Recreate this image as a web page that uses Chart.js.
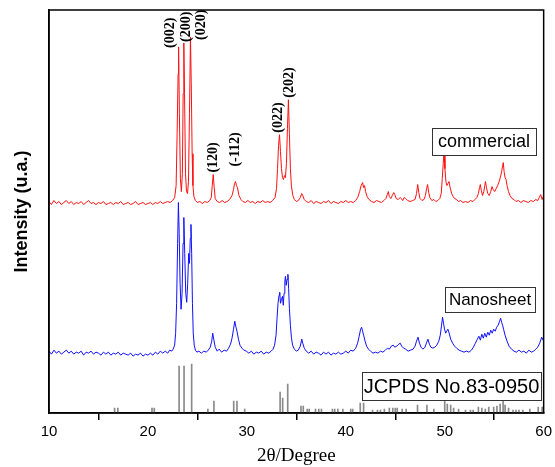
<!DOCTYPE html>
<html>
<head>
<meta charset="utf-8">
<script src="https://cdn.jsdelivr.net/npm/chart.js@4.4.1/dist/chart.umd.min.js"></script>
<style>
html,body{margin:0;padding:0;background:#fff;}
#wrap{width:555px;height:467px;}
</style>
</head>
<body>
<div id="wrap"><canvas id="c" width="555" height="467"></canvas></div>
<script>
// ---- data ----
const xTicks = [10, 20, 30, 40, 50, 60];
const seriesNames = ['commercial', 'Nanosheet', 'JCPDS No.83-0950'];

const commercial = [
[10.0,212],[10.25,209],[10.5,213],[10.75,210],[11.0,212],[11.25,209],[11.5,211],[11.75,213],[12.0,210],[12.25,212],
[12.5,209],[12.75,211],[13.0,210],[13.25,212],[13.5,209],[13.75,211],[14.0,213],[14.25,210],[14.5,211],[14.75,209],
[15.0,211],[15.25,210],[15.5,212],[15.75,209],[16.0,210],[16.25,211],[16.5,209],[16.75,211],[17.0,210],[17.25,212],
[17.5,209],[17.75,210],[18.0,211],[18.25,209],[18.5,210],[18.75,212],[19.0,209],[19.25,210],[19.5,211],[19.75,209],
[20.0,210],[20.25,211],[20.5,209],[20.75,211],[21.0,210],[21.25,212],[21.5,210],[21.75,211],[22.0,212],[22.25,211],
[22.5,213],[22.7,216],[22.85,228],[22.95,280],[23.05,340],[23.1,367],[23.18,300],[23.28,235],[23.38,222],[23.48,240],
[23.56,320],[23.63,371],[23.7,320],[23.8,240],[23.9,222],[24.0,220],[24.1,232],[24.2,300],[24.3,377],[24.38,330],
[24.47,260],[24.55,228],[24.65,217],[24.8,213],[25.0,211],[25.25,212],[25.5,210],[25.75,212],[26.0,211],[26.25,213],
[26.4,216],[26.5,228],[26.6,239],[26.7,226],[26.8,215],[27.0,212],[27.25,211],[27.5,213],[27.75,211],[28.0,212],
[28.25,214],[28.5,218],[28.65,224],[28.75,230],[28.85,232],[28.95,228],[29.05,226],[29.2,218],[29.4,214],[29.6,212],
[29.85,211],[30.1,213],[30.35,211],[30.6,212],[30.85,210],[31.1,212],[31.35,211],[31.6,213],[31.85,211],[32.1,212],
[32.35,211],[32.6,213],[32.85,216],[33.0,225],[33.1,245],[33.2,268],[33.3,279],[33.4,262],[33.5,245],[33.6,236],
[33.7,234],[33.8,238],[33.9,236],[34.0,250],[34.1,285],[34.2,314],[34.3,280],[34.4,245],[34.5,228],[34.65,218],
[34.8,214],[35.0,212],[35.2,213],[35.4,216],[35.55,220],[35.65,218],[35.8,214],[36.0,212],[36.25,211],[36.5,213],
[36.75,210],[37.0,212],[37.25,211],[37.5,210],[37.75,212],[38.0,211],[38.25,213],[38.5,210],[38.75,212],[39.0,211],
[39.25,210],[39.5,212],[39.75,211],[40.0,213],[40.25,211],[40.5,212],[40.75,211],[41.0,213],[41.2,216],[41.4,222],
[41.55,228],[41.7,231],[41.8,226],[41.9,228],[42.0,222],[42.15,217],[42.35,214],[42.6,212],[42.85,211],[43.1,213],
[43.35,212],[43.6,211],[43.85,213],[44.05,215],[44.2,219],[44.3,222],[44.4,217],[44.55,215],[44.7,218],[44.85,221],
[44.95,219],[45.1,215],[45.3,214],[45.5,216],[45.6,215],[45.75,213],[45.9,216],[46.05,215],[46.25,213],[46.5,212],
[46.75,213],[47.0,214],[47.15,220],[47.27,229],[47.38,221],[47.5,215],[47.7,213],[47.9,214],[48.05,218],[48.17,225],
[48.27,229],[48.38,221],[48.5,216],[48.7,213],[48.9,214],[49.1,212],[49.3,213],[49.5,215],[49.65,220],[49.75,235],
[49.85,250],[49.93,262],[50.02,245],[50.12,232],[50.22,228],[50.32,230],[50.43,232],[50.55,226],[50.7,220],[50.85,217],
[51.0,215],[51.2,214],[51.4,212],[51.6,213],[51.85,211],[52.1,212],[52.35,211],[52.6,213],[52.85,212],[53.05,214],
[53.25,216],[53.4,220],[53.52,226],[53.6,229],[53.7,223],[53.82,218],[53.95,222],[54.05,228],[54.12,232],[54.22,226],
[54.35,220],[54.5,218],[54.65,222],[54.78,227],[54.9,224],[55.05,222],[55.2,225],[55.35,228],[55.5,232],[55.62,236],
[55.75,242],[55.85,248],[55.92,251],[56.0,242],[56.1,236],[56.2,234],[56.3,228],[56.45,222],[56.6,218],[56.8,215],
[57.0,214],[57.2,212],[57.45,213],[57.7,211],[57.95,213],[58.2,212],[58.45,211],[58.7,213],[58.95,212],[59.2,214],
[59.4,213],[59.55,216],[59.7,219],[59.85,214],[60.0,218]
];

const nanosheet = [
[10.0,62],[10.25,59],[10.5,63],[10.75,60],[11.0,62],[11.25,59],[11.5,61],[11.75,63],[12.0,60],[12.25,62],
[12.5,59],[12.75,61],[13.0,60],[13.25,62],[13.5,58],[13.75,61],[14.0,60],[14.25,62],[14.5,59],[14.75,61],
[15.0,60],[15.25,58],[15.5,61],[15.75,59],[16.0,61],[16.25,58],[16.5,60],[16.75,59],[17.0,61],[17.25,58],
[17.5,60],[17.75,59],[18.0,58],[18.25,60],[18.5,57],[18.75,59],[19.0,58],[19.25,60],[19.5,57],[19.75,59],
[20.0,58],[20.25,60],[20.5,58],[20.75,61],[21.0,59],[21.25,62],[21.5,60],[21.75,62],[22.0,60],[22.2,63],
[22.4,62],[22.55,64],[22.7,68],[22.8,80],[22.9,110],[23.0,170],[23.08,211],[23.16,180],[23.25,130],[23.35,104],
[23.45,120],[23.55,170],[23.63,196],[23.72,160],[23.82,120],[23.92,111],[24.02,130],[24.12,160],[24.2,150],[24.28,175],
[24.35,189],[24.42,160],[24.5,110],[24.58,80],[24.68,68],[24.8,63],[24.95,61],[25.15,62],[25.4,60],[25.65,62],
[25.9,61],[26.1,63],[26.3,66],[26.45,72],[26.55,80],[26.65,74],[26.8,66],[27.0,62],[27.2,64],[27.45,61],
[27.7,63],[27.95,62],[28.15,65],[28.35,69],[28.5,75],[28.65,84],[28.78,92],[28.9,86],[29.0,82],[29.15,74],
[29.3,68],[29.5,65],[29.7,63],[29.95,62],[30.2,60],[30.45,62],[30.7,59],[30.95,61],[31.2,60],[31.45,62],
[31.7,59],[31.95,61],[32.2,60],[32.45,62],[32.65,64],[32.8,68],[32.95,78],[33.05,95],[33.15,110],[33.25,118],
[33.32,121],[33.4,110],[33.5,114],[33.6,117],[33.68,108],[33.76,120],[33.84,132],[33.9,137],[33.98,128],[34.06,134],
[34.15,139],[34.22,125],[34.3,105],[34.4,88],[34.5,76],[34.62,68],[34.8,64],[35.0,62],[35.2,63],[35.4,67],
[35.55,74],[35.65,70],[35.8,65],[36.0,62],[36.25,60],[36.5,62],[36.75,59],[37.0,61],[37.25,60],[37.5,58],
[37.75,61],[38.0,59],[38.25,61],[38.5,58],[38.75,60],[39.0,59],[39.25,61],[39.5,59],[39.75,60],[40.0,62],
[40.25,60],[40.5,63],[40.75,62],[41.0,65],[41.2,70],[41.35,77],[41.5,84],[41.6,86],[41.7,82],[41.8,78],
[41.95,72],[42.1,67],[42.3,64],[42.5,62],[42.75,60],[43.0,61],[43.25,60],[43.5,62],[43.75,61],[44.0,63],
[44.2,65],[44.4,64],[44.6,67],[44.8,68],[44.95,66],[45.15,67],[45.35,69],[45.5,70],[45.65,67],[45.85,65],
[46.05,64],[46.3,62],[46.55,63],[46.8,64],[47.0,67],[47.15,72],[47.3,76],[47.45,70],[47.6,66],[47.8,64],
[48.0,66],[48.15,70],[48.3,74],[48.45,69],[48.6,66],[48.8,65],[49.0,66],[49.2,68],[49.4,72],[49.55,78],
[49.68,88],[49.78,96],[49.88,90],[49.98,84],[50.1,80],[50.2,82],[50.32,84],[50.45,80],[50.6,74],[50.8,70],
[51.0,67],[51.2,65],[51.45,63],[51.7,62],[51.95,61],[52.2,62],[52.45,61],[52.7,63],[52.9,66],[53.1,70],
[53.3,74],[53.45,77],[53.6,73],[53.75,79],[53.9,75],[54.05,80],[54.2,76],[54.35,81],[54.5,78],[54.65,83],
[54.8,80],[54.95,84],[55.1,82],[55.25,86],[55.4,88],[55.55,92],[55.65,95],[55.75,91],[55.85,88],[55.95,84],
[56.1,78],[56.3,72],[56.5,67],[56.75,64],[57.0,62],[57.25,61],[57.5,63],[57.75,61],[58.0,62],[58.25,60],
[58.5,63],[58.75,61],[59.0,62],[59.2,64],[59.4,66],[59.6,70],[59.8,76],[60.0,72]
];

const stickAngles = [16.63,16.96,20.41,20.64,23.15,23.65,24.42,26.06,26.67,28.67,29.0,29.78,33.36,33.62,34.13,
  35.47,35.7,36.1,36.3,36.94,37.27,37.54,38.65,38.88,39.2,39.7,40.5,40.7,41.46,41.8,42.7,43.2,43.5,43.9,44.4,
  44.75,45.0,45.2,45.7,46.1,47.25,48.2,48.9,50.0,50.26,50.6,50.9,51.4,52.1,52.6,52.87,53.4,53.75,54.1,54.45,
  54.95,55.28,55.6,55.9,56.1,56.45,56.9,57.2,57.5,57.9,58.6,59.45,59.85];
const stickIntensities = [5,5,5,5,47,47,49,4,12,12,12,4,21,15,29,
  7,7,4,4,4,4,4,4,4,4,4,4,4,10,10,3,3,3,4,5,
  5,5,5,4,4,8,8,4,15,9,8,5,4,3,3,3,6,5,4,6,
  6,7,9,12,8,5,3,3,3,3,4,6,6];

const hklLabels = ['(002)','(200)','(020)','(120)','(-112)','(022)','(202)'];
const hklAngles = [22.25, 23.86, 25.36, 26.57, 28.88, 33.2, 34.3];
const hklBase   = [366, 372, 374, 241, 247, 281, 316];

// ---- plugins ----
const framePlugin = {
  id: 'frame',
  afterDatasetsDraw(chart) {
    const {ctx, chartArea: a} = chart;
    ctx.save();
    ctx.strokeStyle = '#000';
    ctx.lineWidth = 1.5;
    ctx.strokeRect(a.left, a.top, a.right - a.left, a.bottom - a.top);
    ctx.restore();
  }
};

const hklPlugin = {
  id: 'hkl',
  afterDatasetsDraw(chart) {
    const {ctx, scales} = chart;
    ctx.save();
    ctx.fillStyle = '#000';
    ctx.font = 'bold 14px "Liberation Serif", serif';
    ctx.textAlign = 'left';
    ctx.textBaseline = 'middle';
    hklLabels.forEach((t, i) => {
      const x = scales.x.getPixelForValue(hklAngles[i]);
      const y = scales.y.getPixelForValue(hklBase[i]);
      ctx.save();
      ctx.translate(x, y);
      ctx.rotate(-Math.PI / 2);
      ctx.fillText(t, 0, 0);
      ctx.restore();
    });
    ctx.restore();
  }
};

const boxPlugin = {
  id: 'boxes',
  afterDatasetsDraw(chart, args, opts) {
    const {ctx} = chart;
    ctx.save();
    opts.items.forEach(b => {
      ctx.fillStyle = '#fff';
      ctx.fillRect(b.x, b.y, b.w, b.h);
      ctx.strokeStyle = '#333';
      ctx.lineWidth = 1;
      ctx.strokeRect(b.x + 0.5, b.y + 0.5, b.w, b.h);
      ctx.fillStyle = '#000';
      ctx.font = b.font;
      ctx.textAlign = 'center';
      ctx.textBaseline = 'middle';
      ctx.fillText(seriesNames[b.i], b.x + b.w / 2, b.y + b.h / 2 + 1);
    });
    ctx.restore();
  }
};

new Chart(document.getElementById('c'), {
  type: 'line',
  data: {
    datasets: [
      {
        type: 'bar',
        label: seriesNames[2],
        data: stickAngles.map((a, i) => ({x: a, y: stickIntensities[i]})),
        backgroundColor: '#8a8a8a',
        borderWidth: 0,
        barThickness: 1,
        grouped: false
      },
      {
        label: seriesNames[0],
        data: commercial.map(p => ({x: p[0], y: p[1]})),
        borderColor: '#ff1010',
        borderWidth: 1,
        pointRadius: 0,
        tension: 0,
        fill: false
      },
      {
        label: seriesNames[1],
        data: nanosheet.map(p => ({x: p[0], y: p[1]})),
        borderColor: '#1010ff',
        borderWidth: 1,
        pointRadius: 0,
        tension: 0,
        fill: false
      }
    ]
  },
  options: {
    responsive: false,
    animation: false,
    devicePixelRatio: 1,
    layout: {padding: {left: 0, top: 10, right: 8, bottom: 0}},
    plugins: {
      legend: {display: false},
      tooltip: {enabled: false},
      boxes: {
        items: [
          {i: 0, x: 432, y: 128, w: 104, h: 27, font: '18px "Liberation Sans", Arial, sans-serif'},
          {i: 1, x: 445, y: 287, w: 90, h: 25, font: '17px "Liberation Sans", Arial, sans-serif'},
          {i: 2, x: 362, y: 372, w: 179, h: 28, font: '20px "Liberation Sans", Arial, sans-serif'}
        ]
      }
    },
    scales: {
      x: {
        type: 'linear',
        min: 10,
        max: 60,
        offset: false,
        afterFit: (axis) => { axis.height = 54; },
        afterBuildTicks: (axis) => { axis.ticks = xTicks.map(v => ({value: v})); },
        ticks: {
          color: '#000',
          font: {family: '"Liberation Sans", Arial, sans-serif', size: 15},
          padding: 3,
          maxRotation: 0
        },
        grid: {drawOnChartArea: false, color: '#000', tickLength: 7, lineWidth: 1.5},
        border: {color: '#000', width: 1.5},
        title: {
          display: true,
          text: '2θ/Degree',
          color: '#000',
          font: {family: '"Liberation Serif", "Times New Roman", serif', size: 19},
          padding: {top: 0, bottom: 0}
        }
      },
      y: {
        min: 0,
        max: 404,
        afterFit: (axis) => { axis.width = 49; },
        ticks: {display: false},
        grid: {display: false},
        border: {color: '#000', width: 1.5},
        title: {
          display: true,
          text: 'Intensity (u.a.)',
          color: '#000',
          font: {family: '"Liberation Sans", Arial, sans-serif', size: 18, weight: 'bold'},
          padding: {top: 11, bottom: 0}
        }
      }
    }
  },
  plugins: [framePlugin, hklPlugin, boxPlugin]
});
</script>
</body>
</html>
